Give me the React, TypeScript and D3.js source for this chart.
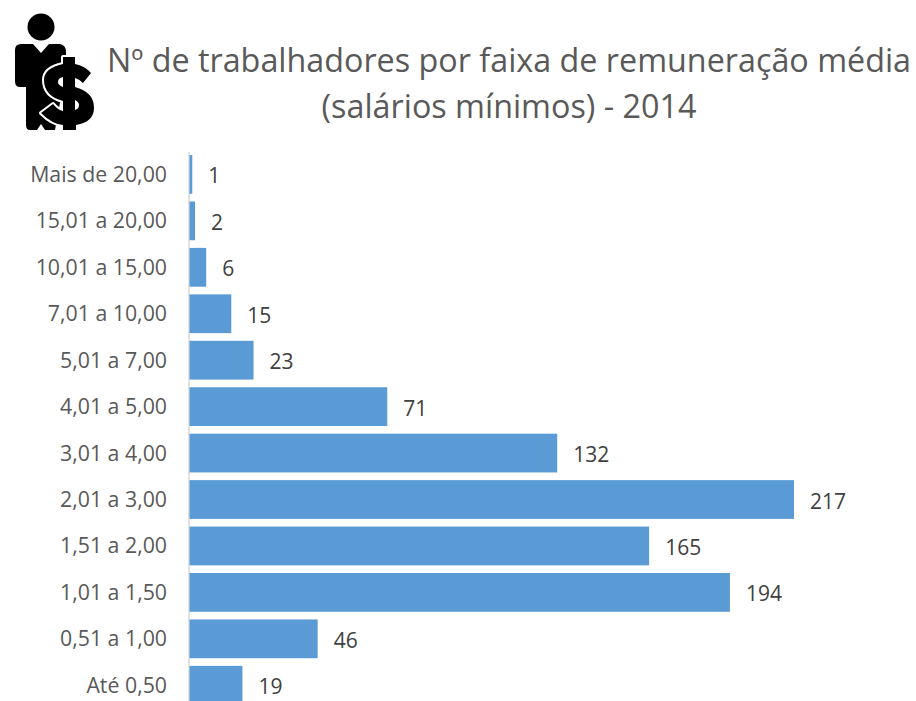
import React from "react";
import * as d3 from "d3";

const categories = ["Mais de 20,00","15,01 a 20,00","10,01 a 15,00","7,01 a 10,00","5,01 a 7,00","4,01 a 5,00","3,01 a 4,00","2,01 a 3,00","1,51 a 2,00","1,01 a 1,50","0,51 a 1,00","Até 0,50"];
const values = [1,2,6,15,23,71,132,217,165,194,46,19];
const titleLines = ["Nº de trabalhadores por faixa de remuneração média","(salários mínimos) - 2014"];

const FONT = "'Open Sans', sans-serif";

export default function App() {
  const x = d3.scaleLinear().domain([0, 217]).range([189.5, 794]);
  const y = d3.scaleBand<string>().domain(categories).range([151.2, 708.5]).paddingInner(0.165).paddingOuter(0.0825);
  return (
    <svg width={916} height={701} style={{ position: "fixed", left: 0, top: 0, background: "#fff" }} fontFamily={FONT}>
      <g fill="#000">
        <circle cx={41} cy={27} r={13.5} />
        <path d="M21 44 L33 44 L41 53 L49 44 L60 44 Q66 45 66 52 L66 70 L55 130 L45 130 L41 124 L37 130 L30 130 Q26 130 26 125 L26 87 L20 87 Q15 87 15 81 L15 50 Q15 44 21 44 Z" />
        <path stroke="#fff" strokeWidth={4} paintOrder="stroke" strokeLinejoin="round" d="M63 57 L75 57 L75 64 Q85 66 91 73 L83 83 Q79 79 75 78 L75 87 Q94 92 94 108 Q94 122 76 125 L76 130 L63 130 L63 125 Q52 124 41 113 L53 104 Q58 110 63 111 L63 101 Q44 96 44 80 Q44 68 63 64 Z" />
        <path d="M63 77 L63 87 Q58 85 58 82 Q58 78 63 77 Z M75 100 L75 110 Q79 109 79 105 Q79 102 75 100 Z" fill="#fff" />
      </g>
      <g fill="#595959" fontSize={32.3} textAnchor="middle">
        {titleLines.map((t, i) => (
          <text key={t} x={509} y={72 + i * 46}>{t}</text>
        ))}
      </g>
      <line x1={189} x2={189} y1={152} y2={701} stroke="#d9d9d9" strokeWidth={1.5} />
      {categories.map((c, i) => {
        const by = y(c)!;
        const h = y.bandwidth();
        return (
          <g key={c}>
            <rect x={x(0)} y={by} width={x(values[i]) - x(0)} height={h} fill="#5b9bd5" />
            <text x={167} y={by + h / 2 + 7.5} textAnchor="end" fontSize={21.3} fill="#595959">{c}</text>
            <text x={x(values[i]) + 16} y={by + h / 2 + 9} fontSize={21} fill="#404040">{values[i]}</text>
          </g>
        );
      })}
    </svg>
  );
}
